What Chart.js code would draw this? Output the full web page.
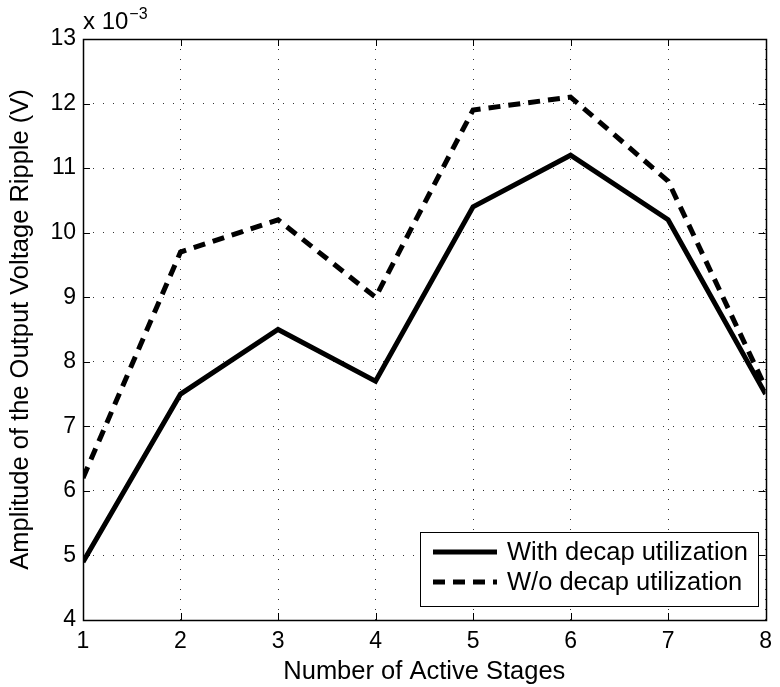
<!DOCTYPE html>
<html>
<head>
<meta charset="utf-8">
<script src="https://cdn.jsdelivr.net/npm/chart.js@4.4.0/dist/chart.umd.min.js"></script>
<style>
  html, body { margin: 0; padding: 0; background: #fff; }
  #wrap { width: 780px; height: 687px; }
</style>
</head>
<body>
<div id="wrap"><canvas id="rippleChart" width="780" height="687"></canvas></div>
<script>
const stages = [1, 2, 3, 4, 5, 6, 7, 8];
// values in units of 1e-3 V
const withDecap = [4.9, 7.5, 8.5, 7.7, 10.4, 11.2, 10.2, 7.5];
const withoutDecap = [6.2, 9.7, 10.2, 9.0, 11.9, 12.1, 10.8, 7.6];
const yTicks = [4, 5, 6, 7, 8, 9, 10, 11, 12, 13];
const seriesLabels = ['With decap utilization', 'W/o decap utilization'];

const FONT = '"Liberation Sans", Arial, Helvetica, sans-serif';

function toPoints(values) {
    return stages.map((s, i) => ({ x: s, y: values[i] }));
}

// box, inward ticks, exponent label and legend, drawn in MATLAB style
const matlabAxes = {
    id: 'matlabAxes',
    afterDraw(chart) {
        const ctx = chart.ctx;
        const area = chart.chartArea;
        const xs = chart.scales.x;
        const ys = chart.scales.y;
        const tick = 7;

        ctx.save();
        ctx.strokeStyle = '#000';
        ctx.lineWidth = 1;
        ctx.setLineDash([]);
        ctx.beginPath();
        stages.forEach(v => {
            const px = Math.round(xs.getPixelForValue(v)) + 0.5;
            ctx.moveTo(px, area.bottom); ctx.lineTo(px, area.bottom - tick);
            ctx.moveTo(px, area.top); ctx.lineTo(px, area.top + tick);
        });
        yTicks.forEach(v => {
            const py = Math.round(ys.getPixelForValue(v)) + 0.5;
            ctx.moveTo(area.left, py); ctx.lineTo(area.left + tick, py);
            ctx.moveTo(area.right, py); ctx.lineTo(area.right - tick, py);
        });
        ctx.stroke();

        ctx.lineWidth = 1.5;
        ctx.strokeRect(Math.round(area.left) + 0.5, Math.round(area.top) + 0.5,
            Math.round(area.right - area.left), Math.round(area.bottom - area.top));

        // exponent
        ctx.fillStyle = '#000';
        ctx.textBaseline = 'alphabetic';
        ctx.textAlign = 'left';
        ctx.font = '24px ' + FONT;
        ctx.fillText('x 10', area.left, 29);
        const w = ctx.measureText('x 10').width;
        ctx.font = '16px ' + FONT;
        ctx.fillText('\u22123', area.left + w + 1, 19);

        // legend
        const box = { left: 420, top: 532, right: 758, bottom: 606 };
        ctx.fillStyle = '#fff';
        ctx.fillRect(box.left, box.top, box.right - box.left, box.bottom - box.top);
        ctx.lineWidth = 1;
        ctx.strokeStyle = '#000';
        ctx.strokeRect(box.left + 0.5, box.top + 0.5, box.right - box.left, box.bottom - box.top);

        const rows = [552, 582];
        chart.data.datasets.forEach((ds, i) => {
            ctx.beginPath();
            ctx.lineWidth = 5;
            ctx.lineCap = 'butt';
            ctx.setLineDash(ds.borderDash || []);
            ctx.moveTo(433, rows[i]);
            ctx.lineTo(497, rows[i]);
            ctx.stroke();
            ctx.setLineDash([]);
            ctx.fillStyle = '#000';
            ctx.font = '25.5px ' + FONT;
            ctx.textBaseline = 'middle';
            ctx.fillText(ds.label, 507, rows[i] + 1);
        });
        ctx.restore();
    }
};

new Chart(document.getElementById('rippleChart').getContext('2d'), {
    type: 'line',
    data: {
        datasets: [
            {
                label: seriesLabels[0],
                data: toPoints(withDecap),
                borderColor: '#000',
                borderWidth: 5,
                pointRadius: 0,
                fill: false,
                tension: 0,
                borderJoinStyle: 'miter'
            },
            {
                label: seriesLabels[1],
                data: toPoints(withoutDecap),
                borderColor: '#000',
                borderWidth: 5,
                borderDash: [12, 8],
                pointRadius: 0,
                fill: false,
                tension: 0
            }
        ]
    },
    options: {
        responsive: false,
        animation: false,
        layout: { padding: { left: 6, top: 39, right: 8, bottom: 0 } },
        plugins: {
            legend: { display: false },
            tooltip: { enabled: false }
        },
        scales: {
            x: {
                type: 'linear',
                min: 1,
                max: 8,
                afterBuildTicks: s => { s.ticks = stages.map(v => ({ value: v })); },
                afterFit: s => { s.height = 67; },
                ticks: { font: { family: FONT, size: 23 }, color: '#000', padding: 8, maxRotation: 0 },
                grid: { color: '#333', drawTicks: false, lineWidth: 1 },
                border: { display: false, dash: [1, 9] },
                title: {
                    display: true,
                    text: 'Number of Active Stages',
                    font: { family: FONT, size: 25.5 },
                    color: '#000',
                    padding: { top: 0, bottom: 0 }
                }
            },
            y: {
                min: 4,
                max: 13,
                afterBuildTicks: s => { s.ticks = yTicks.map(v => ({ value: v })); },
                afterFit: s => { s.width = 77; },
                ticks: { font: { family: FONT, size: 23 }, color: '#000', padding: 7 },
                grid: { color: '#333', drawTicks: false, lineWidth: 1 },
                border: { display: false, dash: [1, 9] },
                title: {
                    display: true,
                    text: 'Amplitude of the Output Voltage Ripple (V)',
                    font: { family: FONT, size: 25.5 },
                    color: '#000',
                    padding: { top: 0, bottom: 0 }
                }
            }
        }
    },
    plugins: [matlabAxes]
});
</script>
</body>
</html>
